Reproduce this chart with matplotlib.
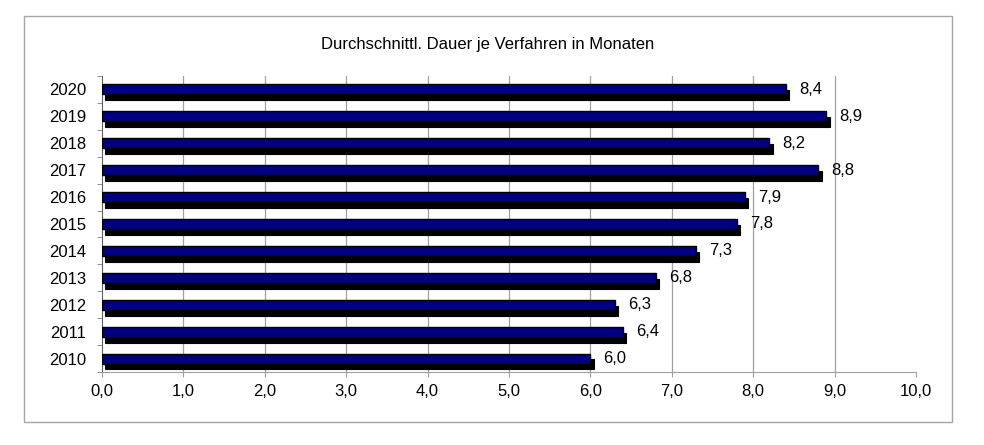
import matplotlib
matplotlib.use("Agg")
import matplotlib.pyplot as plt
from matplotlib.patches import Rectangle

years = ["2010", "2011", "2012", "2013", "2014", "2015", "2016", "2017", "2018", "2019", "2020"]
dauer = [6.0, 6.4, 6.3, 6.8, 7.3, 7.8, 7.9, 8.8, 8.2, 8.9, 8.4]
xticks = [0, 1, 2, 3, 4, 5, 6, 7, 8, 9, 10]

plt.rcParams['font.family'] = ['Liberation Sans', 'DejaVu Sans']

W, H = 984, 445
fig = plt.figure(figsize=(W / 100, H / 100), dpi=100)
# grey frame around the chart
fig.patches.append(Rectangle((24 / W, 1 - 422 / H), (952 - 24) / W, (422 - 16) / H,
                             transform=fig.transFigure, fill=False,
                             edgecolor='#a6a6a6', linewidth=1.0))

ax = fig.add_axes([102 / W, 1 - 372 / H, (916 - 102) / W, (372 - 76) / H])
ypos = list(range(len(years)))
bh = 0.37
# shadow first, then the blue bar on top
ax.barh([y - 0.22 for y in ypos], dauer, height=bh, left=0.04,
        color='black', edgecolor='black', linewidth=0.8, zorder=3)
ax.barh(ypos, dauer, height=bh, color='#000080', edgecolor='black',
        linewidth=1.0, zorder=4)

for y, v in zip(ypos, dauer):
    ax.annotate(f"{v:.1f}".replace('.', ','), (v, y), xytext=(9.5, 0),
                textcoords='offset points', va='center', ha='left',
                fontsize=12, zorder=5)

ax.set_xlim(0, 10)
ax.set_ylim(-0.5, len(years) - 0.5)
ax.set_xticks(xticks)
ax.set_xticklabels([f"{t:.1f}".replace('.', ',') for t in xticks], fontsize=12)
ax.set_yticks(ypos)
ax.set_yticklabels(years, fontsize=12)
ax.set_yticks([y + 0.5 for y in range(-1, len(years))], minor=True)
ax.tick_params(axis='y', which='major', length=0, pad=11.5)
ax.tick_params(axis='y', which='minor', length=3.5, color='#808080')
ax.tick_params(axis='x', length=3.6, color='#a0a0a0', pad=5)

for t in xticks[1:-1]:
    ax.axvline(t, color='#a0a0a0', linewidth=0.9, zorder=1)

for s in ['top', 'right']:
    ax.spines[s].set_visible(False)
ax.spines['bottom'].set_color('#a0a0a0')
ax.spines['left'].set_color('#606060')

fig.text(488 / W, 1 - 44 / H, "Durchschnittl. Dauer je Verfahren in Monaten",
         ha='center', va='center', fontsize=12)

fig.savefig("out.png", dpi=100)
